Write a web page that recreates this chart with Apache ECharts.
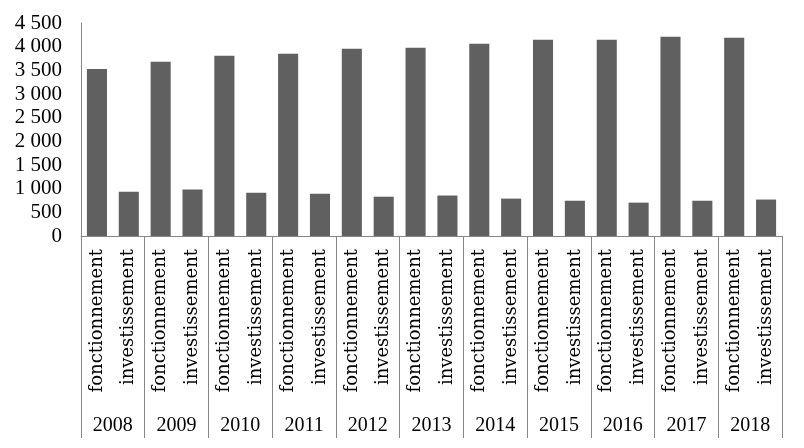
<!DOCTYPE html>
<html>
<head>
<meta charset="utf-8">
<script src="https://cdn.jsdelivr.net/npm/echarts@6/dist/echarts.min.js"></script>
<style>html,body{margin:0;padding:0;background:#fff}#c{width:804px;height:448px}</style>
</head>
<body>
<div id="c"></div>
<script>
const years = ['2008','2009','2010','2011','2012','2013','2014','2015','2016','2017','2018'];
const kinds = ['fonctionnement','investissement'];
const fonctionnement = [3530, 3680, 3810, 3850, 3955, 3975, 4060, 4145, 4145, 4210, 4190];
const investissement = [935, 980, 915, 895, 830, 855, 790, 745, 705, 745, 770];
const yTicks = [0, 500, 1000, 1500, 2000, 2500, 3000, 3500, 4000, 4500];

const cats = [];
const vals = [];
years.forEach((y, i) => {
  cats.push(kinds[0]); vals.push(fonctionnement[i]);
  cats.push(kinds[1]); vals.push(investissement[i]);
});
const font = 'Liberation Serif';
const axisColor = '#868686';
const chart = echarts.init(document.getElementById('c'));
chart.setOption({
  animation: false,
  grid: {left: 81, right: 22, top: 23, bottom: 212, outerBoundsMode: 'none'},
  xAxis: [
    {
      type: 'category', data: cats, position: 'bottom',
      axisLine: {show: true, lineStyle: {color: axisColor, width: 1}},
      axisTick: {show: false},
      axisLabel: {interval: 0, rotate: 90, margin: 13, fontFamily: 'DejaVu Serif', fontSize: 18, color: '#000'}
    },
    {
      type: 'category', data: years, position: 'bottom',
      axisLine: {show: false},
      axisTick: {show: true, length: 202, inside: false, interval: 0, lineStyle: {color: axisColor, width: 1}},
      axisLabel: {interval: 0, margin: 180, fontFamily: font, fontSize: 20, color: '#000'}
    }
  ],
  yAxis: {
    type: 'value', min: yTicks[0], max: yTicks[yTicks.length - 1], interval: 500,
    axisLine: {show: true, lineStyle: {color: axisColor, width: 1}},
    axisTick: {show: false},
    splitLine: {show: false},
    axisLabel: {
      margin: 19, fontFamily: font, fontSize: 21, color: '#000',
      formatter: v => v >= 1000 ? Math.floor(v / 1000) + ' ' + String(v % 1000).padStart(3, '0') : String(v)
    }
  },
  series: [{
    type: 'bar', xAxisIndex: 0, data: vals, barCategoryGap: '37%',
    itemStyle: {color: '#606060'}
  }]
});
</script>
</body>
</html>
